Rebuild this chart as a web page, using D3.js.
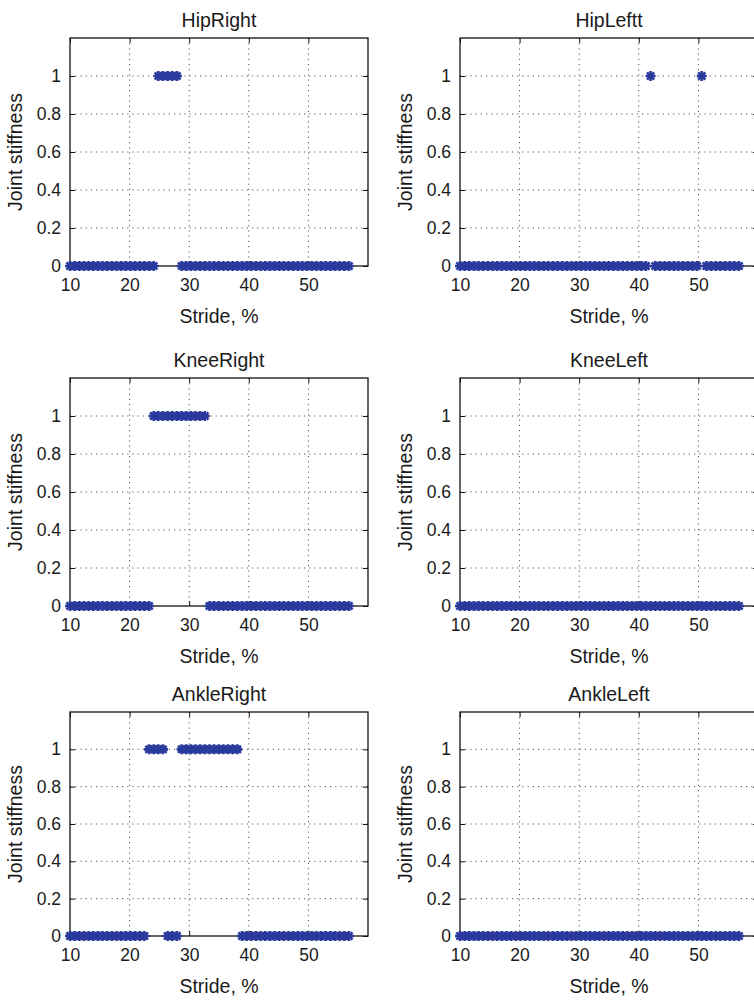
<!DOCTYPE html>
<html><head><meta charset="utf-8">
<script src="https://cdn.jsdelivr.net/npm/d3@7"></script>
<style>body{margin:0;background:#fff} svg text{font-family:"Liberation Sans",Arial,Helvetica,sans-serif;fill:#1a1a1a}</style>
</head><body>
<svg id="c" width="754" height="1001"></svg>
<script>
// ---- data ----
const stride = [10.00,10.78,11.56,12.34,13.12,13.90,14.68,15.46,16.24,17.02,
  17.80,18.58,19.36,20.14,20.92,21.70,22.48,23.26,24.04,24.82,
  25.60,26.38,27.16,27.94,28.72,29.50,30.28,31.06,31.84,32.62,
  33.40,34.18,34.96,35.74,36.52,37.30,38.08,38.86,39.64,40.42,
  41.20,41.98,42.76,43.54,44.32,45.10,45.88,46.66,47.44,48.22,
  49.00,49.78,50.56,51.34,52.12,52.90,53.68,54.46,55.24,56.02,56.80];
const hipRight   = [0,0,0,0,0,0,0,0,0,0, 0,0,0,0,0,0,0,0,0,1, 1,1,1,1,0,0,0,0,0,0, 0,0,0,0,0,0,0,0,0,0, 0,0,0,0,0,0,0,0,0,0, 0,0,0,0,0,0,0,0,0,0, 0];
const hipLeft    = [0,0,0,0,0,0,0,0,0,0, 0,0,0,0,0,0,0,0,0,0, 0,0,0,0,0,0,0,0,0,0, 0,0,0,0,0,0,0,0,0,0, 0,1,0,0,0,0,0,0,0,0, 0,0,1,0,0,0,0,0,0,0, 0];
const kneeRight  = [0,0,0,0,0,0,0,0,0,0, 0,0,0,0,0,0,0,0,1,1, 1,1,1,1,1,1,1,1,1,1, 0,0,0,0,0,0,0,0,0,0, 0,0,0,0,0,0,0,0,0,0, 0,0,0,0,0,0,0,0,0,0, 0];
const kneeLeft   = [0,0,0,0,0,0,0,0,0,0, 0,0,0,0,0,0,0,0,0,0, 0,0,0,0,0,0,0,0,0,0, 0,0,0,0,0,0,0,0,0,0, 0,0,0,0,0,0,0,0,0,0, 0,0,0,0,0,0,0,0,0,0, 0];
const ankleRight = [0,0,0,0,0,0,0,0,0,0, 0,0,0,0,0,0,0,1,1,1, 1,0,0,0,1,1,1,1,1,1, 1,1,1,1,1,1,1,0,0,0, 0,0,0,0,0,0,0,0,0,0, 0,0,0,0,0,0,0,0,0,0, 0];
const ankleLeft  = [0,0,0,0,0,0,0,0,0,0, 0,0,0,0,0,0,0,0,0,0, 0,0,0,0,0,0,0,0,0,0, 0,0,0,0,0,0,0,0,0,0, 0,0,0,0,0,0,0,0,0,0, 0,0,0,0,0,0,0,0,0,0, 0];
const titles = ["HipRight","HipLeftt","KneeRight","KneeLeft","AnkleRight","AnkleLeft"];
const seriesList = [hipRight, hipLeft, kneeRight, kneeLeft, ankleRight, ankleLeft];
const xTicks = [10,20,30,40,50];
const yTicks = [0,0.2,0.4,0.6,0.8,1];
const yTickLabels = ["0","0.2","0.4","0.6","0.8","1"];
const xLabel = "Stride, %";
const yLabel = "Joint stiffness";

// ---- layout ----
const colLeft = [70, 460];
const plotW = 298;
const rowTop = [38, 378, 712];
const rowH = [228, 228, 224];
const markerColor = "#2a3a9c";

const svg = d3.select("#c");
const star = "M-5,0L5,0M0,-5L0,5M-3.6,-3.6L3.6,3.6M-3.6,3.6L3.6,-3.6";

seriesList.forEach((vals, k) => {
  const col = k % 2, row = Math.floor(k / 2);
  const L = colLeft[col], T = rowTop[row], H = rowH[row];
  const x = d3.scaleLinear().domain([10, 60]).range([L, L + plotW]);
  const y = d3.scaleLinear().domain([0, 1.2]).range([T + H, T]);
  const g = svg.append("g");

  // grid
  g.selectAll(".gx").data(xTicks.slice(1)).join("line")
    .attr("x1", d => x(d)).attr("x2", d => x(d)).attr("y1", T).attr("y2", T + H)
    .attr("stroke", "#555").attr("stroke-width", 1).attr("stroke-dasharray", "1.2,4");
  g.selectAll(".gy").data(yTicks.slice(1)).join("line")
    .attr("y1", d => y(d)).attr("y2", d => y(d)).attr("x1", L).attr("x2", L + plotW)
    .attr("stroke", "#555").attr("stroke-width", 1).attr("stroke-dasharray", "1.2,4");

  // box
  g.append("rect").attr("x", L).attr("y", T).attr("width", plotW).attr("height", H)
    .attr("fill", "none").attr("stroke", "#111").attr("stroke-width", 1.3);

  // axes with inner ticks
  const ax = g.append("g").attr("transform", `translate(0,${T + H})`)
    .call(d3.axisBottom(x).tickValues(xTicks).tickSizeInner(-5).tickSizeOuter(0).tickPadding(9));
  ax.select(".domain").remove();
  ax.selectAll("text").attr("font-size", 17.5).attr("dy", "0.9em");
  const axT = g.append("g").attr("transform", `translate(0,${T})`)
    .call(d3.axisTop(x).tickValues(xTicks).tickSizeInner(-5).tickSizeOuter(0).tickFormat(""));
  axT.select(".domain").remove();
  const ay = g.append("g").attr("transform", `translate(${L},0)`)
    .call(d3.axisLeft(y).tickValues(yTicks).tickSizeInner(-5).tickSizeOuter(0).tickPadding(9)
      .tickFormat((d, i) => yTickLabels[i]));
  ay.select(".domain").remove();
  ay.selectAll("text").attr("font-size", 17.5);
  const ayR = g.append("g").attr("transform", `translate(${L + plotW},0)`)
    .call(d3.axisRight(y).tickValues(yTicks).tickSizeInner(-5).tickSizeOuter(0).tickFormat(""));
  ayR.select(".domain").remove();
  g.selectAll(".tick line").attr("stroke", "#111");

  // markers
  g.selectAll(".m").data(stride.map((s, i) => [s, vals[i]])).join("path")
    .attr("d", star).attr("transform", d => `translate(${x(d[0])},${y(d[1])})`)
    .attr("stroke", markerColor).attr("stroke-width", 2.6).attr("fill", "none");

  // titles / labels
  g.append("text").attr("x", L + plotW / 2).attr("y", T - 11).attr("text-anchor", "middle")
    .attr("font-size", 19.5).text(titles[k]);
  g.append("text").attr("x", L + plotW / 2).attr("y", T + H + 57).attr("text-anchor", "middle")
    .attr("font-size", 19.5).text(xLabel);
  g.append("text").attr("transform", `translate(${L - 55},${T + H / 2}) rotate(-90)`)
    .attr("text-anchor", "middle").attr("dy", "0.35em").attr("font-size", 19.5).text(yLabel);
});
</script>
</body></html>
